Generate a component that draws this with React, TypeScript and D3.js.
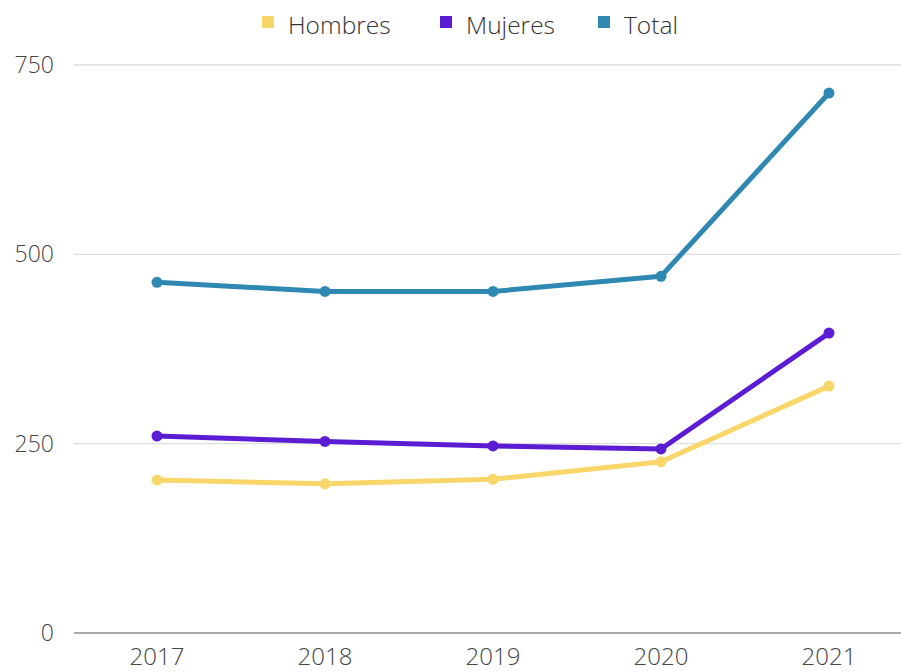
import React from "react";
import * as d3 from "d3";

const years = ["2017", "2018", "2019", "2020", "2021"];
const hombres = [202, 197, 203, 226, 326];
const mujeres = [260, 253, 247, 243, 396];
const total = [463, 451, 451, 471, 713];
const yTicks = [0, 250, 500, 750];

const seriesNames = ["Hombres", "Mujeres", "Total"];
const seriesColors = ["#F8D66A", "#5B1CD4", "#2E88B2"];

const W = 901;
const H = 672;

export default function App() {
  const x = d3.scalePoint<string>().domain(years).range([157, 829]);
  const y = d3.scaleLinear().domain([0, 750]).range([633, 65]);
  const line = d3
    .line<number>()
    .x((_, i) => x(years[i]) as number)
    .y((d) => y(d));
  const data = [hombres, mujeres, total];
  const legendX = [262, 440, 598];
  const font = "'Open Sans', sans-serif";

  return (
    <svg
      width={W}
      height={H}
      style={{ position: "absolute", left: 0, top: 0, background: "#fff" }}
      fontFamily={font}
    >
      <rect x={0} y={0} width={W} height={H} fill="#fff" />
      {yTicks.map((t) => (
        <g key={t}>
          <line
            x1={74}
            x2={W}
            y1={y(t)}
            y2={y(t)}
            stroke={t === 0 ? "#aaa" : "#ddd"}
            strokeWidth={t === 0 ? 2 : 1.3}
          />
          <text
            x={54}
            y={y(t)}
            dy="0.35em"
            textAnchor="end"
            fontSize={23}
            fontWeight={300}
            fill="#444"
          >
            {t}
          </text>
        </g>
      ))}
      {years.map((yr) => (
        <text
          key={yr}
          x={x(yr) as number}
          y={665}
          textAnchor="middle"
          fontSize={24}
          fontWeight={300}
          fill="#444"
        >
          {yr}
        </text>
      ))}
      {data.map((vals, si) => (
        <g key={si}>
          <path
            d={line(vals) || ""}
            fill="none"
            stroke={seriesColors[si]}
            strokeWidth={5}
            strokeLinejoin="round"
          />
          {vals.map((v, i) => (
            <circle
              key={i}
              cx={x(years[i]) as number}
              cy={y(v)}
              r={5.5}
              fill={seriesColors[si]}
            />
          ))}
        </g>
      ))}
      {seriesNames.map((n, i) => (
        <g key={n}>
          <rect
            x={legendX[i]}
            y={16}
            width={12}
            height={12}
            fill={seriesColors[i]}
          />
          <text
            x={legendX[i] + 26}
            y={25}
            dy="0.35em"
            fontSize={24.5}
            fontWeight={300}
            fill="#333"
          >
            {n}
          </text>
        </g>
      ))}
    </svg>
  );
}
